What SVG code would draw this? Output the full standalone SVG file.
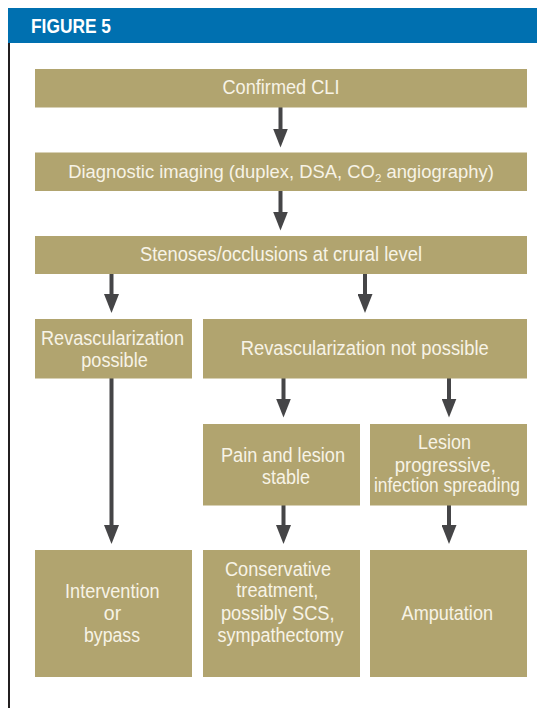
<svg xmlns="http://www.w3.org/2000/svg" width="537" height="708" viewBox="0 0 537 708">
<style>
.box{fill:#b1a46f}
.t{font-family:"Liberation Sans",Arial,sans-serif;font-size:19.5px;fill:#f7f3e6;text-anchor:middle}
.arr{stroke:#454547;stroke-width:4;fill:none;marker-end:url(#ah)}
</style>
<defs>
<marker id="ah" markerUnits="userSpaceOnUse" markerWidth="19" markerHeight="15" refX="9" refY="7.5" orient="auto" viewBox="0 0 19 15">
<path d="M0,0 L19,7.5 L0,15 z" fill="#454547"/>
</marker>
</defs>
<rect x="0" y="0" width="537" height="708" fill="#ffffff"/>
<g id="header">
<rect x="8" y="8" width="529" height="35" fill="#0070b0"/>
<text x="31" y="33" font-family="'Liberation Sans',Arial,sans-serif" font-weight="bold" font-size="20" fill="#ffffff" textLength="80" lengthAdjust="spacingAndGlyphs">FIGURE 5</text>
<line x1="9" y1="43" x2="9" y2="708" stroke="#231f20" stroke-width="2"/>
</g>
<g id="connectors">
<line class="arr" x1="280.5" y1="107" x2="280.5" y2="137.5"/>
<line class="arr" x1="280.5" y1="191" x2="280.5" y2="220.5"/>
<line class="arr" x1="111.5" y1="274" x2="111.5" y2="303"/>
<line class="arr" x1="365" y1="274" x2="365" y2="303"/>
<line class="arr" x1="283.5" y1="378" x2="283.5" y2="407.5"/>
<line class="arr" x1="449" y1="378" x2="449" y2="407.5"/>
<line class="arr" x1="111.5" y1="378" x2="111.5" y2="534"/>
<line class="arr" x1="283.5" y1="505" x2="283.5" y2="534"/>
<line class="arr" x1="449" y1="505" x2="449" y2="534"/>
</g>
<g id="n1">
<rect class="box" x="35" y="69" width="492" height="38.5"/>
<text class="t" x="281" y="94.3" textLength="117" lengthAdjust="spacingAndGlyphs">Confirmed CLI</text>
</g>
<g id="n2">
<rect class="box" x="35" y="152.5" width="492" height="38.5"/>
<text class="t" x="281" y="178.3" style="font-size:18.4px">Diagnostic imaging (duplex, DSA, CO<tspan font-size="11.5" dy="4">2</tspan><tspan dy="-4"> angiography)</tspan></text>
</g>
<g id="n3">
<rect class="box" x="35" y="236" width="492" height="38"/>
<text class="t" x="281" y="261" textLength="282" lengthAdjust="spacingAndGlyphs">Stenoses/occlusions at crural level</text>
</g>
<g id="n4">
<rect class="box" x="35" y="319" width="157" height="59.5"/>
<text class="t" x="112.5" y="345" textLength="143" lengthAdjust="spacingAndGlyphs">Revascularization</text>
<text class="t" x="114.5" y="366.5" textLength="66.5" lengthAdjust="spacingAndGlyphs">possible</text>
</g>
<g id="n5">
<rect class="box" x="203" y="319" width="324" height="59.5"/>
<text class="t" x="364.7" y="355" textLength="248" lengthAdjust="spacingAndGlyphs">Revascularization not possible</text>
</g>
<g id="n6">
<rect class="box" x="203" y="424" width="157" height="81.5"/>
<text class="t" x="283" y="461.7" textLength="124" lengthAdjust="spacingAndGlyphs">Pain and lesion</text>
<text class="t" x="286" y="484" textLength="48" lengthAdjust="spacingAndGlyphs">stable</text>
</g>
<g id="n7">
<rect class="box" x="370" y="424" width="157" height="81.5"/>
<text class="t" x="444.5" y="449" textLength="53" lengthAdjust="spacingAndGlyphs">Lesion</text>
<text class="t" x="445.3" y="471.7" textLength="101" lengthAdjust="spacingAndGlyphs">progressive,</text>
<text class="t" x="447" y="492.3" textLength="146" lengthAdjust="spacingAndGlyphs">infection spreading</text>
</g>
<g id="n8">
<rect class="box" x="35" y="550" width="157" height="127"/>
<text class="t" x="112.3" y="598.3" textLength="94.5" lengthAdjust="spacingAndGlyphs">Intervention</text>
<text class="t" x="112.5" y="620">or</text>
<text class="t" x="112" y="641.7" textLength="56" lengthAdjust="spacingAndGlyphs">bypass</text>
</g>
<g id="n9">
<rect class="box" x="203" y="550" width="157" height="127"/>
<text class="t" x="278" y="576" textLength="106" lengthAdjust="spacingAndGlyphs">Conservative</text>
<text class="t" x="277.3" y="597.3" textLength="82" lengthAdjust="spacingAndGlyphs">treatment,</text>
<text class="t" x="277.8" y="620" textLength="113.7" lengthAdjust="spacingAndGlyphs">possibly SCS,</text>
<text class="t" x="280.5" y="641.7" textLength="126" lengthAdjust="spacingAndGlyphs">sympathectomy</text>
</g>
<g id="n10">
<rect class="box" x="370" y="550" width="157" height="127"/>
<text class="t" x="447.3" y="620" textLength="91.4" lengthAdjust="spacingAndGlyphs">Amputation</text>
</g>
</svg>
